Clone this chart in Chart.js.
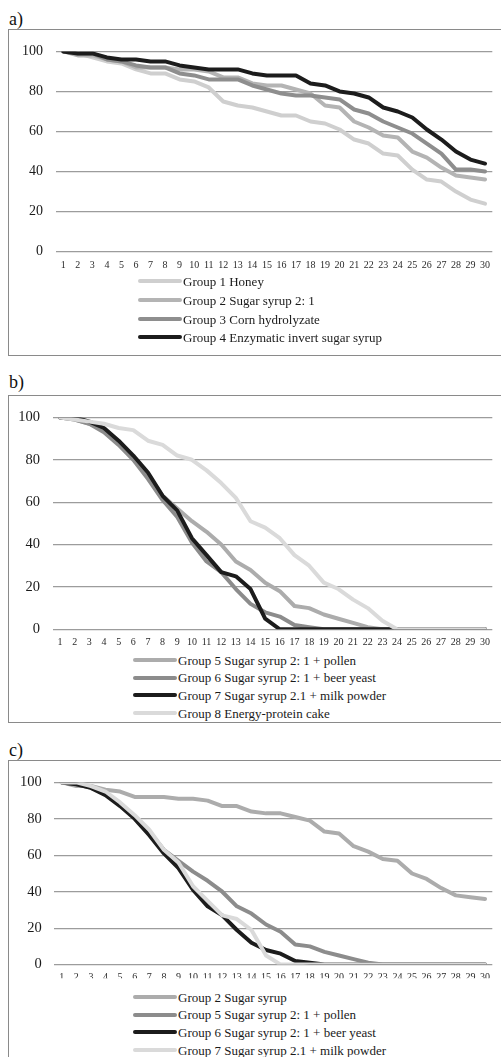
<!DOCTYPE html>
<html><head><meta charset="utf-8">
<script src="https://cdn.jsdelivr.net/npm/chart.js@4.4.1/dist/chart.umd.min.js"></script>
<style>
html,body{margin:0;padding:0;background:#fff;}
body{width:501px;height:1057px;overflow:hidden;position:relative;font-family:"Liberation Serif","Times New Roman",serif;}
.lbl{position:absolute;left:9px;font-size:18px;line-height:18px;color:#111;}
.box{position:absolute;left:8px;width:520px;border:1px solid #8a8a8a;box-sizing:border-box;}
canvas{position:absolute;left:0;}
.leg{position:absolute;font-size:13px;line-height:15px;color:#1a1a1a;white-space:nowrap;height:15px;}
.leg .sw{position:absolute;left:0;top:5.5px;height:4px;border-radius:2px;}
.leg .tx{position:absolute;top:0;}
</style>
</head><body>
<div class="lbl" style="top:10px">a)</div>
<div class="box" style="top:29px;height:327px"></div>
<div class="lbl" style="top:373px">b)</div>
<div class="box" style="top:395px;height:328px"></div>
<div class="lbl" style="top:741px">c)</div>
<div class="box" style="top:760px;height:400px"></div>
<canvas id="ca" width="501" height="245" style="top:30px;width:501px;height:245px"></canvas>
<canvas id="cb" width="501" height="255" style="top:396px;width:501px;height:255px"></canvas>
<canvas id="cc" width="501" height="225" style="top:761px;width:501px;height:225px"></canvas>
<div id="legends"></div>
<script>
// ---- data ----
const days = ['1','2','3','4','5','6','7','8','9','10','11','12','13','14','15','16','17','18','19','20','21','22','23','24','25','26','27','28','29','30'];
const yTicks = [0, 20, 40, 60, 80, 100];

// panel a
const g1Honey   = [100, 99, 97, 95, 94, 91, 89, 89, 86, 85, 82, 75, 73, 72, 70, 68, 68, 65, 64, 61, 56, 54, 49, 48, 41, 36, 35, 30, 26, 24];
const g2Sugar   = [100, 98, 98, 96, 95, 92, 92, 92, 91, 91, 90, 87, 87, 84, 83, 83, 81, 79, 73, 72, 65, 62, 58, 57, 50, 47, 42, 38, 37, 36];
const g3Corn    = [100, 99, 99, 96, 95, 93, 92, 92, 89, 88, 86, 86, 86, 83, 81, 79, 78, 78, 77, 76, 71, 69, 65, 62, 59, 54, 49, 41, 41, 40];
const g4Invert  = [100, 99, 99, 97, 96, 96, 95, 95, 93, 92, 91, 91, 91, 89, 88, 88, 88, 84, 83, 80, 79, 77, 72, 70, 67, 61, 56, 50, 46, 44];
// panel b / c
const g5Pollen  = [100, 99, 97, 94, 88, 81, 73, 63, 57, 51, 46, 40, 32, 28, 22, 18, 11, 10, 7, 5, 3, 1, 0, 0, 0, 0, 0, 0, 0, 0];
const g6Yeast   = [100, 99, 97, 93, 87, 80, 71, 61, 53, 41, 32, 27, 19, 12, 8, 6, 2, 1, 0, 0, 0, 0, 0, 0, 0, 0, 0, 0, 0, 0];
const g7Milk    = [100, 100, 98, 95, 89, 82, 74, 63, 56, 43, 35, 27, 25, 19, 5, 0, 0, 0, 0, 0, 0, 0, 0, 0, 0, 0, 0, 0, 0, 0];
const g8Cake    = [100, 99, 98, 97, 95, 94, 89, 87, 82, 80, 75, 69, 62, 51, 48, 43, 35, 30, 22, 19, 14, 10, 4, 0, 0, 0, 0, 0, 0, 0];

const labelsA = ['Group 1 Honey', 'Group 2 Sugar syrup 2: 1', 'Group 3 Corn hydrolyzate', 'Group 4 Enzymatic invert sugar syrup'];
const labelsB = ['Group 5 Sugar syrup 2: 1 + pollen', 'Group 6 Sugar syrup 2: 1 + beer yeast', 'Group 7 Sugar syrup 2.1 + milk powder', 'Group 8 Energy-protein cake'];
const labelsC = ['Group 2 Sugar syrup', 'Group 5 Sugar syrup 2: 1 + pollen', 'Group 6 Sugar syrup 2: 1 + beer yeast', 'Group 7 Sugar syrup 2.1 + milk powder'];

// ---- layout (page coordinates) ----
const panels = [
  { id: 'ca', canvasTop: 30, canvasH: 245, top: 46.7, bottom: 251.7, left: 56.0, right: 492.3, yLabelRight: 43, xLabelY: 265, yFont: 14,
    series: [g1Honey, g2Sugar, g3Corn, g4Invert], labels: labelsA,
    colors: ['#cfcfcf', '#b4b4b4', '#8e8e8e', '#1c1c1c'],
    legX: 138, legSw: 44, legYs: [281, 300, 319, 337] },
  { id: 'cb', canvasTop: 396, canvasH: 255, top: 411.7, bottom: 629.3, left: 52.7, right: 492.3, yLabelRight: 40, xLabelY: 642, yFont: 14.5,
    series: [g5Pollen, g6Yeast, g7Milk, g8Cake], labels: labelsB,
    colors: ['#acacac', '#8c8c8c', '#1c1c1c', '#dadada'],
    legX: 133, legSw: 44, legYs: [660, 677.5, 695, 713] },
  { id: 'cc', canvasTop: 761, canvasH: 225, top: 775, bottom: 972.3, left: 54.4, right: 492.3, yLabelRight: 41.7, xLabelY: 985, yFont: 14.5,
    series: [g2Sugar, g5Pollen, g6Yeast, g7Milk], labels: labelsC,
    colors: ['#acacac', '#8c8c8c', '#1c1c1c', '#dadada'],
    legX: 133, legSw: 44, legYs: [997, 1014.5, 1032, 1050] }
];

const legendHost = document.getElementById('legends');
panels.forEach(p => {
  const n = p.series.length;
  const datasets = p.series.map((d, i) => ({
    label: p.labels[i], data: d, borderColor: p.colors[i], backgroundColor: p.colors[i],
    borderWidth: 4, pointRadius: 0, tension: 0, fill: false,
    borderCapStyle: 'round', borderJoinStyle: 'round', order: n - i
  }));
  const yW = p.left;
  const xH = p.canvasTop + p.canvasH - p.bottom;
  const xPad = p.xLabelY - 6 - p.bottom;
  new Chart(document.getElementById(p.id), {
    type: 'line',
    data: { labels: days, datasets },
    options: {
      responsive: false, animation: false, devicePixelRatio: 1,
      layout: { padding: { top: p.top - p.canvasTop, right: 501 - p.right, left: 0, bottom: 0 } },
      plugins: { legend: { display: false }, tooltip: { enabled: false }, title: { display: false } },
      scales: {
        x: {
          offset: true,
          grid: { display: false, drawTicks: false },
          border: { display: false },
          ticks: { color: '#2a2a2a', font: { family: '"Liberation Serif", serif', size: 10 }, padding: xPad, maxRotation: 0, autoSkip: false },
          afterFit: s => { s.height = xH; }
        },
        y: {
          min: 0, max: 100,
          afterBuildTicks: s => { s.ticks = yTicks.map(v => ({ value: v })); },
          grid: { color: '#9c9c9c', lineWidth: 1.2, drawTicks: false },
          border: { display: false },
          ticks: { color: '#1a1a1a', font: { family: '"Liberation Serif", serif', size: p.yFont }, padding: p.left - p.yLabelRight },
          afterFit: s => { s.width = yW; }
        }
      }
    }
  });
  p.labels.forEach((lab, i) => {
    const el = document.createElement('div');
    el.className = 'leg';
    el.style.left = p.legX + 'px';
    el.style.top = (p.legYs[i] - 7.5) + 'px';
    const sw = document.createElement('div');
    sw.className = 'sw';
    sw.style.width = p.legSw + 'px';
    sw.style.background = p.colors[i];
    const tx = document.createElement('div');
    tx.className = 'tx';
    tx.style.left = (p.legSw + 1) + 'px';
    tx.textContent = lab;
    el.appendChild(sw); el.appendChild(tx);
    legendHost.appendChild(el);
  });
});
</script>
</body></html>
